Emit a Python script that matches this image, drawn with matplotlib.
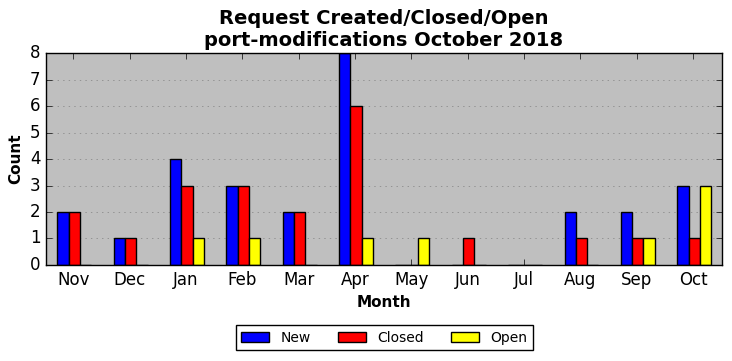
import numpy as np
import matplotlib
matplotlib.use("Agg")
import matplotlib.pyplot as plt

plt.style.use("classic")

months = ["Nov", "Dec", "Jan", "Feb", "Mar", "Apr", "May", "Jun", "Jul", "Aug", "Sep", "Oct"]
new_counts = [2, 1, 4, 3, 2, 8, 0, 0, 0, 2, 2, 3]
closed_counts = [2, 1, 3, 3, 2, 6, 0, 1, 0, 1, 1, 1]
open_counts = [0, 0, 1, 1, 0, 1, 1, 0, 0, 0, 1, 3]

fig = plt.figure(figsize=(7.32, 3.61), dpi=100, facecolor="white")
ax = fig.add_axes([0.063, 0.266, 0.923, 0.587])
ax.set_facecolor("#bfbfbf")

x = np.arange(len(months))
w = 0.2
ax.bar(x - w + 0.02, new_counts, w, align="center", color="blue", label="New")
ax.bar(x + 0.02, closed_counts, w, align="center", color="red", label="Closed")
ax.bar(x + w + 0.02, open_counts, w, align="center", color="yellow", label="Open")

ax.set_xlim(-0.48, 11.51)
ax.set_ylim(0, 8)
ax.set_xticks(x)
ax.set_xticklabels(months, fontsize=12)
ax.tick_params(axis="y", labelsize=12)
ax.yaxis.grid(True, linestyle=":", color="#808080")
ax.set_axisbelow(True)

ax.set_xlabel("Month", fontsize=11, fontweight="bold")
ax.set_ylabel("Count", fontsize=11, fontweight="bold")
ax.set_title("Request Created/Closed/Open\nport-modifications October 2018",
             fontsize=14, fontweight="bold")

fig.legend(loc="lower center", ncol=3, fontsize=10, bbox_to_anchor=(0.525, 0.01),
           frameon=True, fancybox=False)

fig.savefig("out.png", dpi=100, facecolor="white")
